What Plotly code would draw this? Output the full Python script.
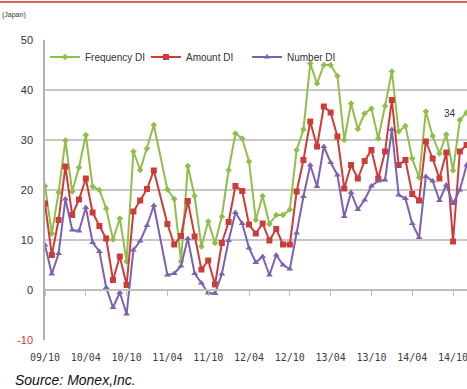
import plotly.graph_objects as go

# ---- data ----
n_months = 63
months = [f"{(9 + (9 + k) // 12):02d}/{(9 + k) % 12 + 1:02d}" for k in range(n_months)]
tick_labels = ["09/10", "10/04", "10/10", "11/04", "11/10", "12/04",
               "12/10", "13/04", "13/10", "14/04", "14/10"]

frequency_di = [20.8, 11.3, 19.5, 29.9, 19.7, 24.5, 31.0, 20.7, 20.0, 16.3,
                10.1, 14.3, 5.7, 27.7, 24.0, 28.3, 33.0, None, 20.1, 18.2,
                5.7, 24.8, 18.8, 8.7, 13.7, 9.4, 14.7, 24.0, 31.3, 30.3,
                25.7, 14.0, 18.8, 13.2, 15.0, 15.0, 16.1, 28.0, 32.1, 45.3,
                41.3, 45.0, 45.0, 42.8, 30.0, 37.3, 32.2, 35.3, 36.3, 30.3,
                36.8, 43.7, 31.7, 32.8, 26.3, 22.5, 35.7, 30.8, 27.3, 31.1,
                23.9, 34.0, 35.5]
amount_di = [17.3, 7.0, 14.0, 24.7, 15.0, 18.1, 22.3, 15.5, 12.8, 10.3,
             2.0, 6.7, 1.0, 15.7, 17.9, 20.2, 23.9, None, 13.2, 9.1,
             10.8, 17.8, 10.7, 4.1, 5.9, 1.1, 9.4, 13.6, 20.8, 19.8,
             13.1, 11.3, 13.3, 9.9, 12.2, 9.1, 9.1, 19.7, 26.0, 33.7,
             28.7, 36.7, 35.5, 30.7, 20.3, 25.0, 22.3, 25.8, 28.0, 22.3,
             27.7, 38.0, 25.0, 26.0, 19.2, 17.9, 29.7, 26.3, 22.3, 27.5,
             9.7, 27.7, 29.0]
number_di = [9.0, 3.2, 7.3, 18.2, 12.0, 11.8, 16.5, 9.5, 7.7, 0.5,
             -3.5, -0.5, -4.8, 8.0, 9.8, 12.9, 16.9, None, 3.0, 3.3,
             4.8, 10.3, 3.3, 1.4, -0.6, -0.7, 3.2, 9.9, 15.5, 13.3,
             8.4, 5.5, 6.7, 3.0, 7.0, 5.0, 4.2, 11.4, 18.7, 25.0,
             20.7, 28.7, 25.5, 23.0, 14.7, 19.5, 16.1, 18.0, 20.8, 21.8,
             22.0, 32.1, 19.0, 18.3, 13.3, 10.5, 22.7, 21.8, 17.9, 21.0,
             17.3, 20.0, 25.0]

y_ticks = [-10, 0, 10, 20, 30, 40, 50]
label_index = 61  # month with the "34" data label

GREEN = "#8fbf4a"
RED = "#cc3d3a"
PURPLE = "#7b62b0"

fig = go.Figure()
fig.add_trace(go.Scatter(x=months, y=frequency_di, name="Frequency DI",
                         mode="lines+markers", connectgaps=True,
                         line=dict(color=GREEN, width=2),
                         marker=dict(symbol="diamond", size=5, color=GREEN)))
fig.add_trace(go.Scatter(x=months, y=amount_di, name="Amount DI",
                         mode="lines+markers", connectgaps=True,
                         line=dict(color=RED, width=2),
                         marker=dict(symbol="square", size=6, color=RED)))
fig.add_trace(go.Scatter(x=months, y=number_di, name="Number DI",
                         mode="lines+markers", connectgaps=True,
                         line=dict(color=PURPLE, width=2),
                         marker=dict(symbol="triangle-up", size=6, color=PURPLE)))
# invisible helper trace so the tick-mark axis at y=0 is drawn
fig.add_trace(go.Scatter(x=months, y=frequency_di, xaxis="x2", mode="lines",
                         line=dict(width=0), opacity=0, showlegend=False,
                         hoverinfo="skip"))

fig.add_annotation(x=months[label_index], y=frequency_di[label_index],
                   text=f"{frequency_di[label_index]:.0f}", showarrow=False,
                   xshift=-10, yshift=7, font=dict(size=10, color="#333333",
                                                   family="Liberation Sans"))

ticktext = [f"<span style='color:#e03030'>{v}</span>" if v < 0 else str(v)
            for v in y_ticks]

x_range = [0, n_months - 1 + 0.05]
fig.update_layout(
    width=467, height=389,
    margin=dict(l=45, r=0, t=40, b=49),
    paper_bgcolor="white", plot_bgcolor="white",
    font=dict(family="Liberation Sans", size=10, color="#333333"),
    xaxis=dict(type="category", range=x_range, tickvals=tick_labels,
               ticktext=tick_labels, showgrid=False, zeroline=False,
               showline=False, ticks="", ticklabelstandoff=10,
               tickfont=dict(family="DejaVu Sans Mono", size=10, color="#404040")),
    xaxis2=dict(type="category", overlaying="x", anchor="free",
                position=1 / 6, range=x_range, tickvals=tick_labels,
                showticklabels=False, showgrid=False, zeroline=False,
                showline=True, linecolor="#bdbdbd", linewidth=1.5,
                ticks="outside", ticklen=5, tickcolor="#bdbdbd", tickwidth=1),
    yaxis=dict(range=[-10, 50], tickvals=y_ticks, ticktext=ticktext,
               showgrid=True, gridcolor="#c8c8c8", gridwidth=1.5,
               zeroline=False, showline=True, linecolor="#b0b0b0",
               linewidth=1.5, ticks="", ticklabelstandoff=8,
               tickfont=dict(size=11, color="#333333")),
    legend=dict(orientation="h", x=0.0, y=0.943, xanchor="left",
                yanchor="middle", bgcolor="rgba(0,0,0,0)",
                font=dict(size=10, color="#333333"), itemwidth=30,
                entrywidth=56, entrywidthmode="pixels",
                tracegroupgap=0),
    showlegend=True,
)

fig.add_annotation(xref="paper", yref="paper", x=-45 / 422, y=1 + 25 / 300,
                   xanchor="left", yanchor="middle", text="(Japan)",
                   showarrow=False, font=dict(size=7, color="#333333"))
fig.add_annotation(xref="paper", yref="paper", x=-32 / 422, y=-40 / 300,
                   xanchor="left", yanchor="middle",
                   text="<i>Source: Monex,Inc.</i>", showarrow=False,
                   font=dict(size=14, color="#111111", family="Liberation Sans"))
fig.add_shape(type="line", xref="paper", yref="paper", x0=-45 / 422, x1=1,
              y0=1 + 38 / 300, y1=1 + 38 / 300,
              line=dict(color="#e0605a", width=2))

fig.write_html("out.html")
